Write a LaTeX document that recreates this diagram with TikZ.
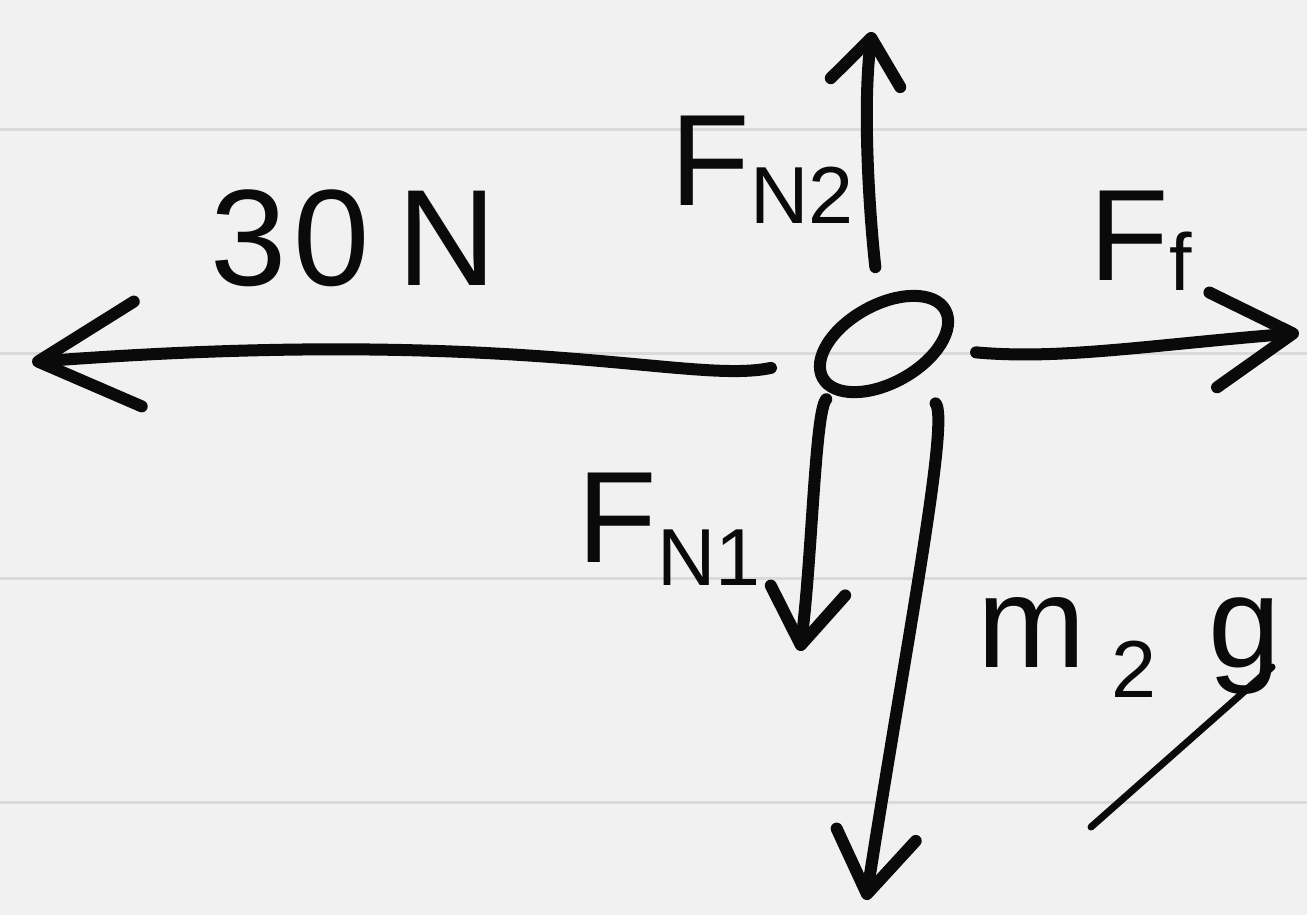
\documentclass[tikz,border=0pt]{standalone}
\usepackage{fontspec}
\setmainfont{Liberation Sans}
\usepackage{tikz}
\usetikzlibrary{arrows.meta, shapes.geometric, positioning}
\usepackage{xcolor}
\definecolor{paper}{RGB}{241, 241, 241}
\definecolor{ruling}{RGB}{218, 218, 218}
\definecolor{ink}{RGB}{10, 10, 10}
% lowered index, written a bit smaller
\newcommand{\lowsub}[2][0.18cm]{\raisebox{-#1}{\fontsize{23}{23}\selectfont #2}}

\begin{document}
\begin{tikzpicture}[x=0.01cm, y=-0.01cm,
    inkline/.style={draw=ink, line width=0.12cm, line cap=round, line join=round},
    force/.style 2 args={inkline, -{Straight Barb[length=#1, width=#2, round]}},
    forcelabel/.style={font=\fontsize{37}{37}\selectfont, text=ink, inner sep=0pt}]
  % Draw the ruled paper
  \fill[paper] (0,0) rectangle (1307,915);
  \useasboundingbox (0,0) rectangle (1307,915);
  \foreach \y in {129,353,578,802} {
    \draw[ruling, line width=0.03cm] (0,\y) -- (1307,\y);
  }

  % The body
  \node[inkline, ellipse, rotate=29, minimum width=1.40cm, minimum height=0.78cm,
    inner sep=0pt] (body) at (884,344) {};

  % Free ends of the forces
  \coordinate (tipPull) at (32,362);
  \coordinate (tipFric) at (1299,333);
  \coordinate (tipNtwo) at (872,32);
  \coordinate (tipNone) at (800,651);
  \coordinate (tipWeight) at (866,900);
  \coordinate (gTail) at (1091,827);

  % Draw the forces
  \draw[force={1.0cm}{1.05cm}, shorten <=0.45cm] (body)
    .. controls (690,385) and (520,325) .. (tipPull);
  \draw[force={0.8cm}{0.95cm}, shorten <=0.32cm] (body)
    .. controls (1060,360) and (1150,345) .. (tipFric);
  \draw[force={0.45cm}{0.7cm}, shorten <=0.3cm] (body)
    .. controls (870,220) and (862,110) .. (tipNtwo);
  \draw[force={0.55cm}{0.75cm}, shorten <=0.08cm] (body)
    .. controls (815,410) and (812,560) .. (tipNone);
  \draw[force={0.6cm}{0.8cm}, shorten <=0.33cm] (body)
    .. controls (950,420) and (905,650) .. (tipWeight);

  % Labels
  \node[forcelabel, anchor=base west] (lblPull) at (210,285)
    {\fontsize{39}{39}\selectfont 3\kern0.05em0\kern0.2em N};
  \node[forcelabel, anchor=base west] (lblNtwo) at (670,205) {F\lowsub{N2}};
  \node[forcelabel, anchor=base west] (lblFric) at (1089,280) {F\lowsub[0.1cm]{f}};
  \node[forcelabel, anchor=base west] (lblNone) at (577,562) {F\lowsub[0.23cm]{N1}};
  \node[forcelabel, anchor=base east] (lblWeight) at (1282,667)
    {m\kern0.2em\lowsub[0.3cm]{2}\kern0.4em g};
  \draw[inkline, line width=0.07cm] ([xshift=-0.1cm]lblWeight.base east) -- (gTail);
\end{tikzpicture}
\end{document}
